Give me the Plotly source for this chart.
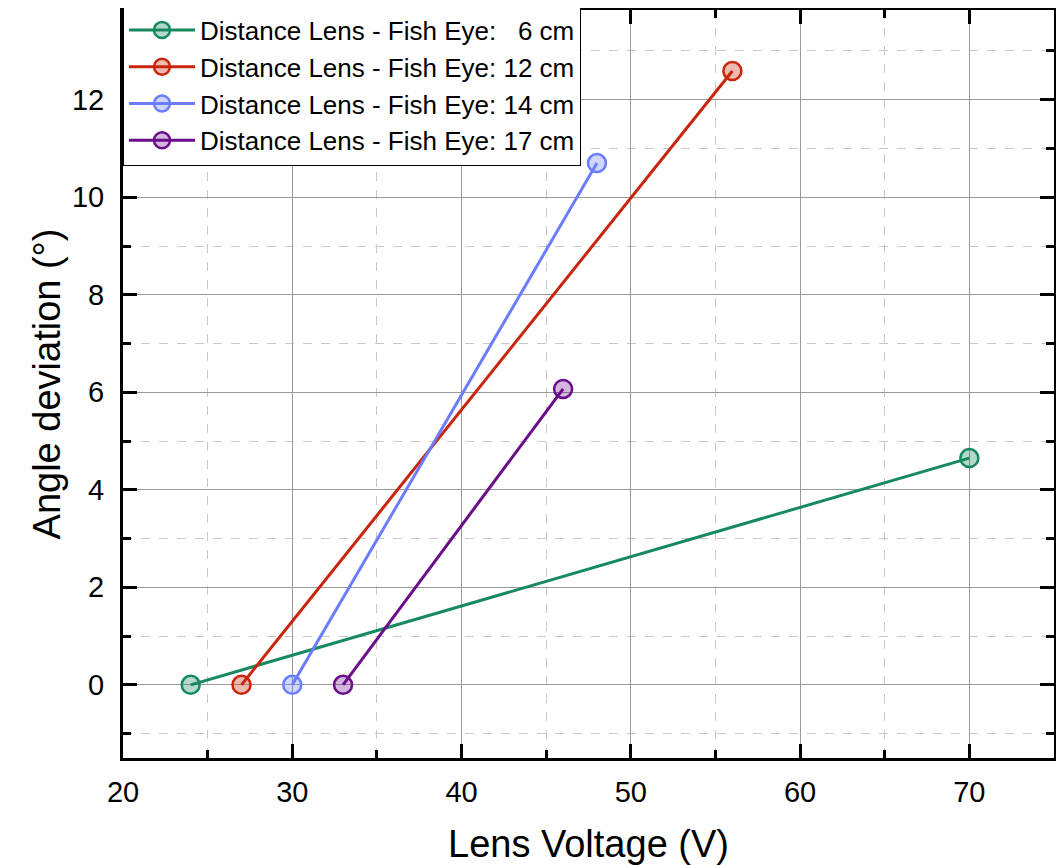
import plotly.graph_objects as go

# Data
series_names = [
    "Distance Lens - Fish Eye: \u20076 cm",
    "Distance Lens - Fish Eye: 12 cm",
    "Distance Lens - Fish Eye: 14 cm",
    "Distance Lens - Fish Eye: 17 cm",
]
voltage_6cm = [24, 70]
angle_6cm = [0, 4.65]
voltage_12cm = [27, 56]
angle_12cm = [0, 12.59]
voltage_14cm = [30, 48]
angle_14cm = [0, 10.70]
voltage_17cm = [33, 46]
angle_17cm = [0, 6.07]

xs = [voltage_6cm, voltage_12cm, voltage_14cm, voltage_17cm]
ys = [angle_6cm, angle_12cm, angle_14cm, angle_17cm]
line_colors = ["#168a5e", "#c8250c", "#6b7cff", "#6a0d8a"]
fill_colors = ["rgba(22,138,94,0.32)", "rgba(200,37,12,0.32)",
               "rgba(107,124,255,0.32)", "rgba(106,13,138,0.30)"]

FONT = "Liberation Sans, Arial, sans-serif"

fig = go.Figure()
for name, x, y, lc, fc in zip(series_names, xs, ys, line_colors, fill_colors):
    fig.add_trace(go.Scatter(
        x=x, y=y, name=name, mode="lines+markers",
        line=dict(color=lc, width=3),
        marker=dict(symbol="circle", size=18, color=fc,
                    line=dict(color=lc, width=2.5)),
    ))

axis_common = dict(
    showline=True, linecolor="black", linewidth=3, mirror="allticks",
    ticks="inside", ticklen=14, tickwidth=3, tickcolor="black",
    showgrid=True, gridcolor="#9a9a9a", gridwidth=1,
    zeroline=False, automargin=False,
    tickfont=dict(family=FONT, size=29, color="black"),
    title_font=dict(family=FONT, size=38, color="black"),
)

fig.update_xaxes(
    range=[20, 75], dtick=10, tick0=20,
    title_text="Lens Voltage (V)", title_standoff=31,
    ticklabelstandoff=6,
    minor=dict(dtick=5, tick0=20, ticks="inside", ticklen=8, tickwidth=3,
               tickcolor="black", showgrid=True, gridcolor="#c8c8c8",
               griddash="dash", gridwidth=1),
    **axis_common,
)
fig.update_yaxes(
    range=[-1.5, 13.84], dtick=2, tick0=0,
    title_text="Angle deviation (°)", title_standoff=0,
    ticklabelstandoff=10,
    minor=dict(dtick=1, tick0=0, ticks="inside", ticklen=8, tickwidth=3,
               tickcolor="black", showgrid=True, gridcolor="#c8c8c8",
               griddash="dash", gridwidth=1),
    **axis_common,
)

fig.update_layout(
    width=1056, height=857,
    margin=dict(l=115, r=10, t=2, b=107, autoexpand=False),
    paper_bgcolor="white", plot_bgcolor="white",
    font=dict(family=FONT, color="black"),
    showlegend=True,
    legend=dict(
        x=0, y=1.006, xanchor="left", yanchor="top",
        bgcolor="white", bordercolor="black", borderwidth=1,
        font=dict(family=FONT, size=26, color="black"),
        itemwidth=66, tracegroupgap=0,
    ),
)

fig.write_html("out.html")
